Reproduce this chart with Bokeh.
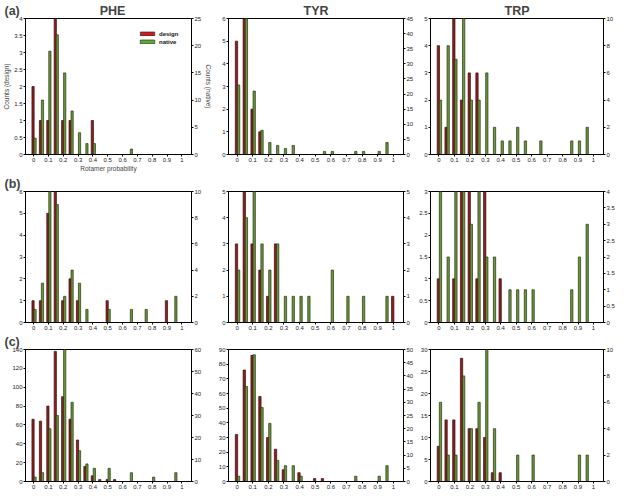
from bokeh.plotting import figure
from bokeh.models import (LinearAxis, Range1d, FixedTicker, CustomJSTickFormatter,
                          Legend, LegendItem, ColumnDataSource)
from bokeh.layouts import gridplot
from bokeh.transform import dodge
from bokeh.embed import file_html
from bokeh.resources import INLINE

# ---------------- data ----------------
BINS = [0, 0.05, 0.1, 0.15, 0.2, 0.25, 0.3, 0.35, 0.4, 0.45, 0.5,
        0.55, 0.6, 0.65, 0.7, 0.75, 0.8, 0.85, 0.9, 0.95, 1.0]
X_TICKS = [0, 0.1, 0.2, 0.3, 0.4, 0.5, 0.6, 0.7, 0.8, 0.9, 1]
ROW_LABELS = ["(a)", "(b)", "(c)"]
RESIDUES = ["PHE", "TYR", "TRP"]

PHE_A_DESIGN = [2, 1, 1, 4, 1, 1, 0, 0, 1, 0, 0, 0, 0, 0, 0, 0, 0, 0, 0, 0, 0]
PHE_A_NATIVE = [3, 10, 19, 22, 15, 8, 4, 2, 2, 0, 0, 0, 0, 1, 0, 0, 0, 0, 0, 0, 0]
TYR_A_DESIGN = [5, 6, 2, 1, 0, 0, 0, 0, 0, 0, 0, 0, 0, 0, 0, 0, 0, 0, 0, 0, 0]
TYR_A_NATIVE = [23, 46, 21, 8, 4, 3, 2, 3, 0, 0, 0, 1, 1, 0, 0, 1, 1, 0, 1, 4, 0]
TRP_A_DESIGN = [4, 1, 5, 2, 3, 3, 0, 0, 0, 0, 0, 0, 0, 0, 0, 0, 0, 0, 0, 0, 0]
TRP_A_NATIVE = [4, 8, 7, 10, 4, 4, 6, 2, 1, 1, 2, 1, 0, 1, 0, 0, 0, 1, 1, 2, 0]

PHE_B_DESIGN = [1, 1, 5, 6, 1, 2, 1, 0, 0, 0, 1, 0, 0, 0, 0, 0, 0, 0, 1, 0, 0]
PHE_B_NATIVE = [1, 3, 10, 9, 2, 4, 3, 1, 0, 0, 1, 0, 0, 1, 0, 1, 0, 0, 0, 2, 0]
TYR_B_DESIGN = [3, 5, 3, 2, 1, 3, 0, 0, 0, 0, 0, 0, 0, 0, 0, 0, 0, 0, 0, 0, 1]
TYR_B_NATIVE = [2, 4, 5, 3, 2, 3, 1, 1, 1, 1, 0, 0, 2, 0, 1, 0, 1, 0, 0, 1, 0]
TRP_B_DESIGN = [1, 0, 1, 3, 3, 1, 3, 0, 1, 0, 0, 0, 0, 0, 0, 0, 0, 0, 0, 0, 0]
TRP_B_NATIVE = [4, 2, 4, 4, 3, 4, 2, 2, 0, 1, 1, 1, 1, 0, 0, 0, 0, 1, 2, 3, 0]

PHE_C_DESIGN = [66, 64, 80, 138, 90, 66, 44, 16, 6, 2, 2, 2, 0, 0, 0, 0, 0, 0, 0, 0, 0]
PHE_C_NATIVE = [2, 4, 24, 30, 61, 36, 14, 8, 6, 0, 6, 0, 0, 4, 0, 0, 2, 0, 0, 4, 0]
TYR_C_DESIGN = [32, 76, 86, 58, 30, 22, 8, 0, 6, 0, 2, 2, 0, 0, 0, 0, 0, 0, 0, 0, 0]
TYR_C_NATIVE = [2, 36, 48, 28, 22, 8, 6, 6, 2, 0, 0, 0, 0, 0, 0, 2, 0, 0, 2, 6, 0]
TRP_C_DESIGN = [8, 14, 14, 28, 12, 12, 10, 2, 2, 0, 0, 0, 0, 0, 0, 0, 0, 0, 0, 0, 0]
TRP_C_NATIVE = [6, 2, 2, 8, 4, 6, 11, 4, 0, 0, 2, 0, 2, 0, 0, 0, 0, 0, 2, 2, 0]

LEFT_TICKS = {
    "PHE_A": [0, 0.5, 1, 1.5, 2, 2.5, 3, 3.5, 4],
    "TYR_A": [0, 1, 2, 3, 4, 5, 6],
    "TRP_A": [0, 1, 2, 3, 4, 5],
    "PHE_B": [0, 1, 2, 3, 4, 5, 6],
    "TYR_B": [0, 1, 2, 3, 4, 5],
    "TRP_B": [0, 0.5, 1, 1.5, 2, 2.5, 3],
    "PHE_C": [0, 20, 40, 60, 80, 100, 120, 140],
    "TYR_C": [0, 10, 20, 30, 40, 50, 60, 70, 80, 90],
    "TRP_C": [0, 5, 10, 15, 20, 25, 30],
}
RIGHT_TICKS = {
    "PHE_A": [0, 5, 10, 15, 20, 25],
    "TYR_A": [0, 5, 10, 15, 20, 25, 30, 35, 40, 45],
    "TRP_A": [0, 2, 4, 6, 8, 10],
    "PHE_B": [0, 2, 4, 6, 8, 10],
    "TYR_B": [0, 1, 2, 3, 4, 5],
    "TRP_B": [0, 0.5, 1, 1.5, 2, 2.5, 3, 3.5, 4],
    "PHE_C": [0, 10, 20, 30, 40, 50, 60],
    "TYR_C": [0, 5, 10, 15, 20, 25, 30, 35, 40, 45, 50],
    "TRP_C": [0, 2, 4, 6, 8, 10],
}
SERIES = {
    "PHE_A": (PHE_A_DESIGN, PHE_A_NATIVE), "TYR_A": (TYR_A_DESIGN, TYR_A_NATIVE),
    "TRP_A": (TRP_A_DESIGN, TRP_A_NATIVE), "PHE_B": (PHE_B_DESIGN, PHE_B_NATIVE),
    "TYR_B": (TYR_B_DESIGN, TYR_B_NATIVE), "TRP_B": (TRP_B_DESIGN, TRP_B_NATIVE),
    "PHE_C": (PHE_C_DESIGN, PHE_C_NATIVE), "TYR_C": (TYR_C_DESIGN, TYR_C_NATIVE),
    "TRP_C": (TRP_C_DESIGN, TRP_C_NATIVE),
}

# ---------------- style / layout ----------------
FONT = "Liberation Sans"
RED_FILL, RED_LINE = "#8c2020", "#3a0b0b"
GREEN_FILL, GREEN_LINE = "#6b9440", "#27360f"
COL_L = [21, 11, 12]
COL_F = [175, 178, 179]
COL_R = [19, 12, 10]
ROW_T = [18, 16, 16]
ROW_F = [136, 132, 133]
ROW_B = [20, 10, 10]
NBSP = "\u00a0"

fmt_code = "return String(Math.round(tick*1000)/1000);"


def style_axis(ax):
    ax.major_label_text_font = FONT
    ax.major_label_text_font_size = "6px"
    ax.major_label_text_color = "#222222"
    ax.major_tick_out = 2
    ax.major_tick_in = 0
    ax.minor_tick_line_color = None
    ax.major_label_standoff = 1
    ax.axis_line_color = "black"
    ax.axis_label_text_font = FONT
    ax.axis_label_text_font_size = "6.5px"
    ax.axis_label_text_font_style = "normal"
    ax.axis_label_standoff = 1
    ax.formatter = CustomJSTickFormatter(code=fmt_code)


rows = []
for ri in range(3):
    row = []
    for ci in range(3):
        key = RESIDUES[ci] + "_" + "ABC"[ri]
        design, native = SERIES[key]
        lt, rt = LEFT_TICKS[key], RIGHT_TICKS[key]
        p = figure(width=COL_L[ci] + COL_F[ci] + COL_R[ci],
                   height=ROW_T[ri] + ROW_F[ri] + ROW_B[ri],
                   x_range=Range1d(-0.055, 1.065),
                   y_range=Range1d(0, lt[-1]),
                   output_backend="svg", toolbar_location=None,
                   min_border_left=COL_L[ci], min_border_right=COL_R[ci],
                   min_border_top=ROW_T[ri], min_border_bottom=ROW_B[ri])
        p.extra_y_ranges = {"native": Range1d(0, rt[-1])}
        p.grid.visible = False
        p.outline_line_color = "black"
        p.outline_line_width = 1
        p.background_fill_color = "white"
        p.border_fill_color = "white"

        src = ColumnDataSource(dict(x=BINS, design=design, native=native))
        p.vbar(x=dodge("x", -0.004, range=p.x_range), top="design", width=0.015,
               source=src, fill_color=RED_FILL, line_color=RED_LINE, line_width=0.7)
        p.vbar(x=dodge("x", 0.0095, range=p.x_range), top="native", width=0.015,
               source=src, fill_color=GREEN_FILL, line_color=GREEN_LINE, line_width=0.7,
               y_range_name="native")

        p.xaxis.ticker = FixedTicker(ticks=X_TICKS)
        p.yaxis.ticker = FixedTicker(ticks=lt)
        style_axis(p.xaxis[0])
        style_axis(p.yaxis[0])
        rax = LinearAxis(y_range_name="native", ticker=FixedTicker(ticks=rt))
        style_axis(rax)
        p.add_layout(rax, "right")

        p.title.text_font = FONT
        p.title.text_font_size = "12.5px"
        p.title.text_font_style = "bold"
        p.title.standoff = 1
        if ri == 0 and ci > 0:
            p.title.text = RESIDUES[ci]
            p.title.align = "center"
        if ci == 0:
            p.title.align = "left"
            p.title.offset = -21
            if ri == 0:
                p.title.text = ROW_LABELS[ri] + NBSP * 23 + RESIDUES[ci]
            else:
                p.title.text = ROW_LABELS[ri]
        if ri == 0 and ci == 0:
            p.yaxis[0].axis_label = "Counts (design)"
            rax.axis_label = "Counts (native)"
            p.xaxis[0].axis_label = "Rotamer probability"
            p.xaxis[0].axis_label_standoff = 0
            leg_src = ColumnDataSource(dict(x=[-1], top=[0]))
            r1 = p.vbar(x="x", top="top", width=0.01, source=leg_src,
                        fill_color="#c81e1e", line_color="#333333", line_width=0.7)
            r2 = p.vbar(x="x", top="top", width=0.01, source=leg_src,
                        fill_color="#5fa832", line_color="#333333", line_width=0.7)
            leg = Legend(items=[LegendItem(label="design", renderers=[r1]),
                                LegendItem(label="native", renderers=[r2])],
                         location="top_right", background_fill_alpha=0,
                         border_line_alpha=0, label_text_font=FONT,
                         label_text_font_size="6px", label_text_font_style="bold",
                         label_text_color="#111111",
                         glyph_width=18, glyph_height=5, label_height=7,
                         spacing=1, padding=2, margin=10, label_standoff=3)
            p.add_layout(leg)
        row.append(p)
    rows.append(row)

grid = gridplot(rows, toolbar_location=None)
open("out.html", "w").write(file_html(grid, INLINE))
